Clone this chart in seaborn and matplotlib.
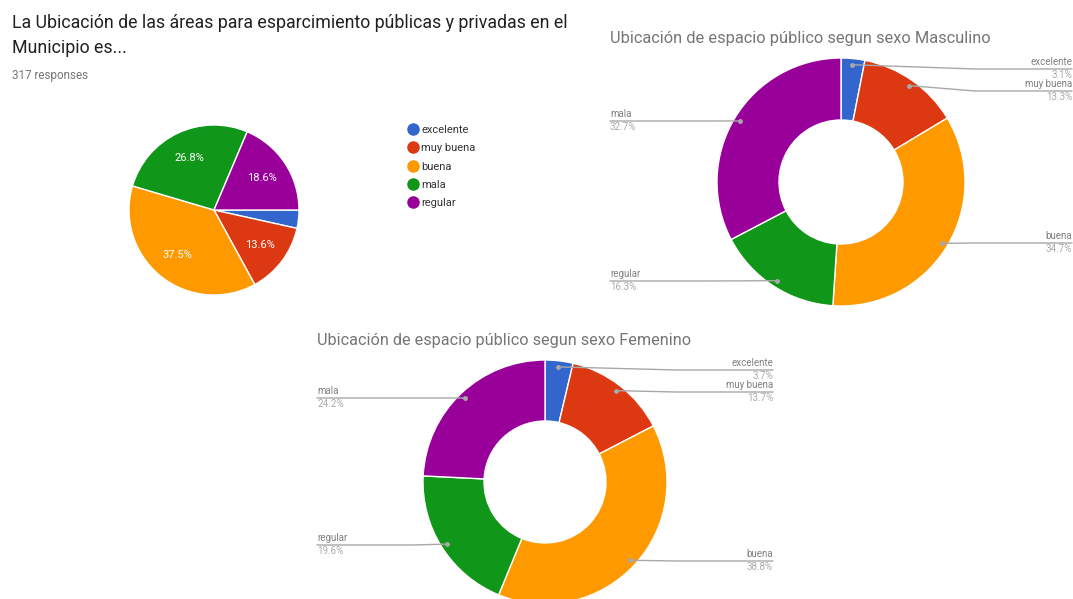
import numpy as np
import matplotlib.pyplot as plt
import seaborn as sns
from matplotlib.lines import Line2D

# Total answers (317 responses), colour order excelente..regular
categories_total = ['excelente', 'muy buena', 'buena', 'mala', 'regular']
responses_total = [11, 43, 119, 85, 59]

# Public space location by sex (percent)
categories_sexo = ['excelente', 'muy buena', 'buena', 'regular', 'mala']
pct_masculino = [3.1, 13.3, 34.7, 16.3, 32.7]
pct_femenino = [3.7, 13.7, 38.8, 19.6, 24.2]

title_total = ['La Ubicación de las áreas para esparcimiento públicas y privadas en el',
               'Municipio es...']
title_masc = 'Ubicación de espacio público segun sexo Masculino'
title_fem = 'Ubicación de espacio público segun sexo Femenino'

sns.set_theme(style='white')
plt.rcParams['font.family'] = ['Roboto', 'DejaVu Sans']
palette = sns.color_palette(['#3366cc', '#dc3912', '#ff9900', '#109618', '#990099'])

W, H = 1073, 599
GRAY_LINE = '#a8a8a8'
GRAY_LAB = '#808080'
GRAY_PCT = '#aaaaaa'


def py(y):
    # pixel row (from top) -> data y
    return H - y


fig = plt.figure(figsize=(W / 100, H / 100), dpi=100)
ax = fig.add_axes([0, 0, 1, 1])

# ---- left pie with legend ----
ax.pie(responses_total, colors=palette, center=(214, py(210)), radius=85,
       startangle=0, counterclock=False,
       autopct=lambda p: f'{p:.1f}%' if p > 5 else '', pctdistance=0.68,
       wedgeprops=dict(edgecolor='white', linewidth=1),
       textprops=dict(color='white', fontsize=8))

ax.text(12, py(23), title_total[0], fontsize=12.8, color='#212121', va='center')
ax.text(12, py(48), title_total[1], fontsize=12.8, color='#212121', va='center')
ax.text(12, py(76), '317 responses', fontsize=8.4, color='#757575', va='center')

handles = [Line2D([], [], marker='o', linestyle='', markersize=8,
                  markerfacecolor=c, markeredgecolor=c) for c in palette]
ax.legend(handles, categories_total, loc='upper left',
          bbox_to_anchor=(407 / W, 1 - 125 / H), frameon=False, fontsize=8,
          handletextpad=0.3, labelspacing=0.75, handlelength=1.0,
          borderaxespad=0, borderpad=0, labelcolor='#333333')


def donut(values, labels, cx, cy, r, x_left, x_right, line_y):
    wedges, _ = ax.pie(values, colors=palette, center=(cx, py(cy)), radius=r,
                       startangle=90, counterclock=False,
                       wedgeprops=dict(width=r * 0.5, edgecolor='white', linewidth=1))
    for wedge, lab, val in zip(wedges, labels, values):
        ang = np.deg2rad((wedge.theta1 + wedge.theta2) / 2)
        dx, dy = np.cos(ang), np.sin(ang)
        px0, py0 = cx + 0.95 * r * dx, py(cy) + 0.95 * r * dy
        ly = py(line_y[lab])
        if dx > 0:
            bend, edge, ha = cx + r + 10, x_right, 'right'
        else:
            bend, edge, ha = cx - r - 10, x_left, 'left'
        ax.plot([px0, bend, edge], [py0, ly, ly], color=GRAY_LINE, lw=1)
        ax.plot(px0, py0, 'o', color=GRAY_LINE, markersize=2.5)
        ax.text(edge, ly + 7, lab, ha=ha, va='center', fontsize=7, color=GRAY_LAB)
        ax.text(edge, ly - 6, f'{val:.1f}%', ha=ha, va='center', fontsize=7, color=GRAY_PCT)


donut(pct_masculino, categories_sexo, 841, 182, 124, 610, 1072,
      {'excelente': 69, 'muy buena': 91, 'buena': 243, 'regular': 281, 'mala': 121})
ax.text(610, py(38), title_masc, fontsize=11.8, color='#757575', va='center')

donut(pct_femenino, categories_sexo, 545, 482, 122, 317, 773,
      {'excelente': 370, 'muy buena': 392, 'buena': 561, 'regular': 545, 'mala': 398})
ax.text(317, py(340), title_fem, fontsize=11.7, color='#757575', va='center')

ax.set_xlim(0, W)
ax.set_ylim(0, H)
ax.set_aspect('equal')
ax.axis('off')

fig.savefig('out.png', dpi=100, facecolor='white')
